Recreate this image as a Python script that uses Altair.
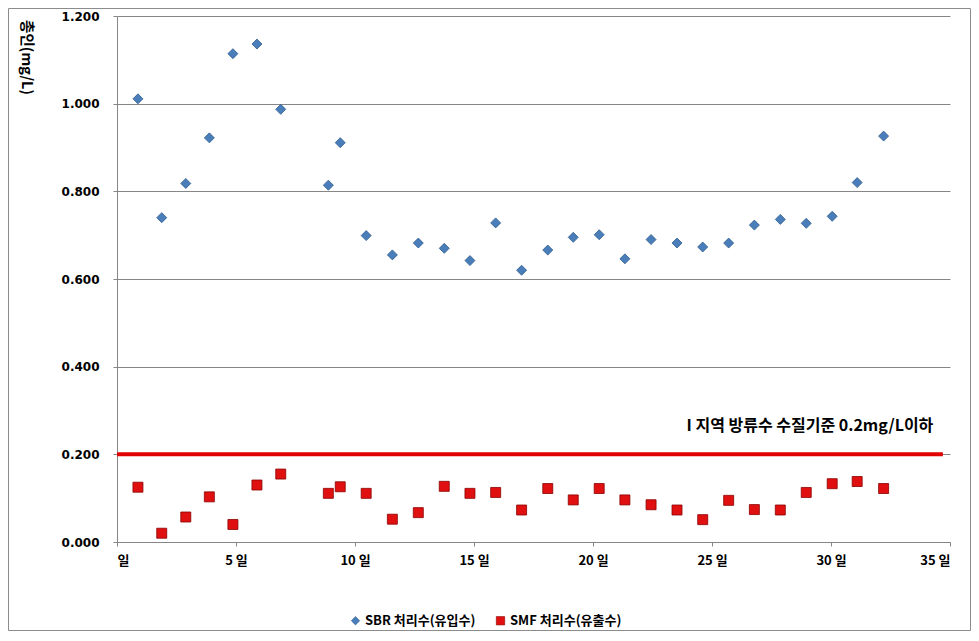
import altair as alt
import pandas as pd

# ---- data ----
days = [0.88, 1.88, 2.89, 3.88, 4.87, 5.88, 6.88, 8.88, 9.38, 10.47,
        11.57, 12.66, 13.75, 14.83, 15.91, 17.00, 18.10, 19.17, 20.26, 21.34,
        22.44, 23.53, 24.61, 25.70, 26.78, 27.87, 28.96, 30.05, 31.10, 32.21]
sbr = [1.011, 0.740, 0.818, 0.922, 1.114, 1.136, 0.987, 0.814, 0.911, 0.699,
       0.655, 0.682, 0.670, 0.642, 0.728, 0.620, 0.666, 0.695, 0.701, 0.646,
       0.690, 0.682, 0.673, 0.682, 0.723, 0.736, 0.727, 0.743, 0.820, 0.926]
smf = [0.125, 0.020, 0.057, 0.103, 0.040, 0.130, 0.155, 0.111, 0.126, 0.111,
       0.052, 0.067, 0.127, 0.111, 0.113, 0.073, 0.122, 0.096, 0.122, 0.096,
       0.085, 0.073, 0.051, 0.095, 0.074, 0.073, 0.113, 0.133, 0.138, 0.122]
series_names = ["SBR 처리수(유입수)", "SMF 처리수(유출수)"]
limit_day = [0, 34.7]
limit_value = [0.2, 0.2]
note_text = ["I 지역 방류수 수질기준 0.2mg/L이하"]
note_day = [34.3]
note_value = [0.264]
y_ticks = [0, 0.2, 0.4, 0.6, 0.8, 1.0, 1.2]
x_ticks = [0, 5, 10, 15, 20, 25, 30, 35]

FONT = "Noto Sans CJK KR"
NUM_FONT = "DejaVu Sans"
GRAY = "#868686"

df = pd.DataFrame({
    "day": days + days,
    "value": sbr + smf,
    "series": [series_names[0]] * len(days) + [series_names[1]] * len(days),
})
limit_df = pd.DataFrame({"day": limit_day, "value": limit_value})
note_df = pd.DataFrame({"day": note_day, "value": note_value, "text": note_text})

x_scale = alt.Scale(domain=[0, 35], nice=False, zero=False)
y_scale = alt.Scale(domain=[0, 1.2], nice=False)

legend = alt.Legend(orient="none", legendX=232, legendY=598, direction="horizontal",
                    title=None, labelFont=FONT, labelFontSize=13,
                    labelFontWeight="bold", labelColor="black",
                    symbolSize=70, columnPadding=18, padding=0,
                    labelOffset=3, symbolStrokeWidth=0.6)

points = alt.Chart(df).mark_point(filled=True, opacity=1, strokeWidth=0.8).encode(
    x=alt.X("day:Q", scale=x_scale, axis=alt.Axis(
        values=x_ticks, title=None, grid=False,
        labelExpr="datum.value == 0 ? '일' : datum.value + ' 일'",
        labelFontSize=13, tickSize=4, labelPadding=8)),
    y=alt.Y("value:Q", scale=y_scale, axis=alt.Axis(
        values=y_ticks, format=".3f", title="총인(mg/L)", grid=True,
        titleAngle=90, titleX=-92, titleY=41, titleAlign="center",
        titleBaseline="middle", titleFontSize=14.5, titleFontWeight="bold",
        labelFont=NUM_FONT, labelFontSize=12, tickSize=4, labelPadding=14)),
    color=alt.Color("series:N", scale=alt.Scale(domain=series_names, range=["#4A7EBB", "#E01010"]),
                    legend=legend),
    shape=alt.Shape("series:N", scale=alt.Scale(domain=series_names, range=["diamond", "square"]),
                    legend=legend),
    stroke=alt.Stroke("series:N", scale=alt.Scale(domain=series_names, range=["#2F5A8A", "#8A0000"]),
                      legend=None),
    size=alt.value(100),
)

limit = alt.Chart(limit_df).mark_line(color="#E00000", strokeWidth=4).encode(
    x=alt.X("day:Q", scale=x_scale),
    y=alt.Y("value:Q", scale=y_scale),
)

note = alt.Chart(note_df).mark_text(
    align="right", baseline="middle", font=FONT, fontSize=16, fontWeight="bold", color="black"
).encode(
    x=alt.X("day:Q", scale=x_scale),
    y=alt.Y("value:Q", scale=y_scale),
    text="text:N",
)

frame = alt.Chart(alt.Data(values=[{}])).mark_rect(
    fillOpacity=0, stroke="#8C8C8C", strokeWidth=1
).encode(
    x=alt.value(-108.5), x2=alt.value(853.5), y=alt.value(-7.5), y2=alt.value(614.5)
)

chart = alt.layer(frame, limit, points, note).properties(
    width=833, height=526,
    autosize="none",
    padding={"left": 109, "top": 8, "right": 21, "bottom": 89},
    background="white",
).configure_view(stroke=None).configure_axis(
    labelFont=FONT, titleFont=FONT, labelFontWeight="bold", labelColor="black",
    titleColor="black", domainColor=GRAY, tickColor=GRAY, gridColor=GRAY,
    gridWidth=1, domainWidth=1,
)

chart.save("out.html", embed_options={"renderer": "svg", "actions": False})
